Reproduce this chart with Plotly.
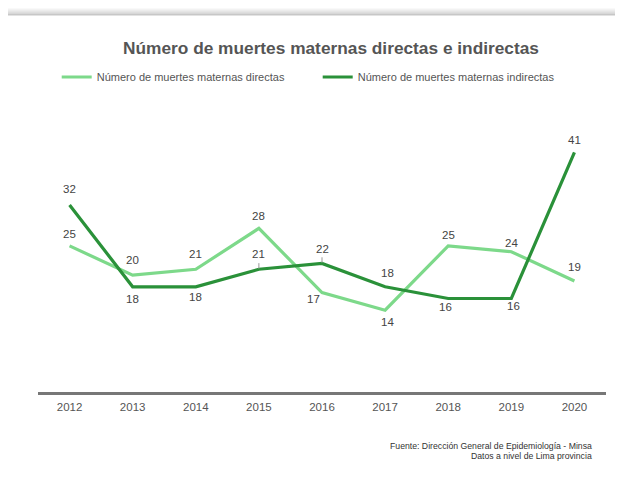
import plotly.graph_objects as go

years = ["2012", "2013", "2014", "2015", "2016", "2017", "2018", "2019", "2020"]
directas = [25, 20, 21, 28, 17, 14, 25, 24, 19]
indirectas = [32, 18, 18, 21, 22, 18, 16, 16, 41]
name_dir = "Número de muertes maternas directas"
name_ind = "Número de muertes maternas indirectas"
title = "Número de muertes maternas directas e indirectas"
source_lines = ["Fuente: Dirección General de Epidemiología - Minsa", "Datos a nivel de Lima provincia"]

# label offsets (pixels, screen down = positive)
dy_dir = [-12, -15, -15, -12, 6, 12, -11, -9, -14]
dx_dir = [0, 0, 0, 0, -9, 2, 0, 0, 0]
dy_ind = [-16, 12, 10, -15, -14, -14, 9, 8, -12]
dx_ind = [0, 0, 0, 0, 0, 2, -3, 2, 0]
leader_idx = [3, 4]

c_light = "#7dd98a"
c_dark = "#2a9139"
font_fam = "Liberation Sans, Arial, sans-serif"

OFF = 8  # page body offset
W, H = 623, 484
L, R, T, B = 30, 25, 121, 100
pw, ph = W - L - R, H - T - B

def fx(s):  # screen x -> paper x
    return (s - OFF - L) / pw

def fy(s):  # screen y -> paper y
    return (H - B - (s - OFF)) / ph

fig = go.Figure()
fig.add_trace(go.Scatter(x=years, y=directas, name=name_dir, mode="lines",
                         line=dict(color=c_light, width=3.2), hoverinfo="x+y"))
fig.add_trace(go.Scatter(x=years, y=indirectas, name=name_ind, mode="lines",
                         line=dict(color=c_dark, width=3.2), hoverinfo="x+y"))

annotations = []
for vals, dys, dxs in [(directas, dy_dir, dx_dir), (indirectas, dy_ind, dx_ind)]:
    for i, v in enumerate(vals):
        annotations.append(dict(x=i, y=v, xref="x", yref="y", text=str(v), showarrow=False,
                                xanchor="center", yanchor="middle", xshift=dxs[i], yshift=-dys[i],
                                font=dict(size=11.5, color="#444", family=font_fam)))

shapes = []
# card top shadow
for k, op in [(7, 0.05), (5, 0.05), (3, 0.06), (1.5, 0.07)]:
    shapes.append(dict(type="rect", xref="paper", yref="paper", layer="below",
                       x0=fx(OFF - 5), x1=fx(W + 20), y0=fy(15.5), y1=fy(15.5 - k),
                       fillcolor=f"rgba(0,0,0,{op})", line=dict(width=0)))
for i in leader_idx:
    shapes.append(dict(type="line", xref="x", yref="y", x0=i, x1=i,
                       y0=indirectas[i] + 0.1, y1=indirectas[i] + 1.05,
                       line=dict(color="#999", width=1)))

for j, s in enumerate(source_lines):
    annotations.append(dict(text=s, xref="paper", yref="paper", x=fx(594), y=fy(445.5 + 10 * j),
                            xanchor="right", yanchor="middle", showarrow=False,
                            font=dict(size=8.7, color="#333", family=font_fam)))

fig.update_layout(
    width=W, height=H,
    margin=dict(l=L, r=R, t=T, b=B),
    paper_bgcolor="white", plot_bgcolor="rgba(0,0,0,0)",
    font=dict(family=font_fam, color="#555"),
    title=dict(text="<b>" + title + "</b>", x=(331 - OFF) / W, xanchor="center",
               y=1 - (51.5 - OFF - 3.5) / H, yanchor="middle", font=dict(size=17.3, color="#555")),
    showlegend=True,
    legend=dict(orientation="h", x=fx(56.7), xanchor="left", y=fy(77), yanchor="middle",
                font=dict(size=11, color="#555"), entrywidth=216, bgcolor="rgba(0,0,0,0)",
                borderwidth=0),
    xaxis=dict(type="category", range=[-0.5, 8.5], showgrid=False, showline=True,
               linecolor="#777", linewidth=2.5, ticks="", tickfont=dict(size=11.5, color="#555"),
               ticklabelstandoff=2, zeroline=False, fixedrange=True),
    yaxis=dict(range=[0, 45], showgrid=False, showticklabels=False, zeroline=False,
               showline=False, fixedrange=True),
    shapes=shapes, annotations=annotations,
)

fig.write_html("out.html")
